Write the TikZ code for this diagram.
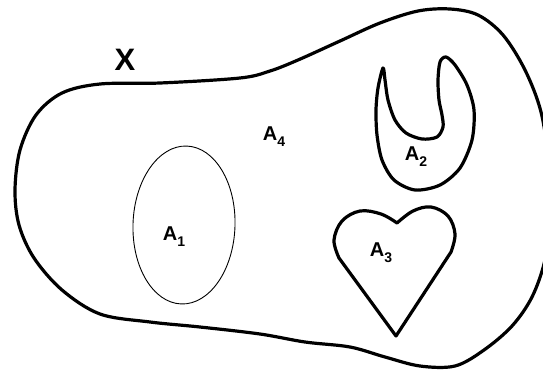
\documentclass[tikz,border=0pt]{standalone}
\usepackage{fontspec}
\setmainfont{Liberation Sans}
\begin{document}
\begin{tikzpicture}[x=1pt,y=-1pt,
  thickline/.style={line width=3.2pt,line join=round,line cap=round},
  thinline/.style={line width=0.9pt},
  lab/.style={inner sep=0pt,font=\fontsize{20}{22}\selectfont\bfseries},
  bigx/.style={inner sep=0pt,font=\fontsize{31}{33}\selectfont\bfseries}]
\useasboundingbox (0,0) rectangle (543,370);
% outer set X
\draw[thickline] plot[smooth cycle, tension=0.55] coordinates {
 (15,190) (20,150) (36,115) (62,93) (100,84) (160,83) (240,78) (270,71) (298,60)
 (340,41) (380,23) (418,11) (450,9) (478,15) (503,35) (525,70) (541,112)
 (549,165) (551,215) (545,260) (532,297) (512,326) (484,350) (455,366)
 (420,366) (385,357) (350,347) (305,342) (260,334) (200,327) (150,322)
 (100,314) (62,290) (34,258) (19,225)};
% A1 ellipse
\draw[thinline] (184,225) ellipse[x radius=51, y radius=79, rotate=-2];
% A2 shape
\draw[thickline] plot[smooth cycle, tension=0.5] coordinates {
 (383,68) (378,88) (376,110) (377,135) (382,160) (394,180) (415,190) (440,185)
 (460,168) (472,140) (474,110) (467,85) (455,65) (446,57) (440,62) (438,80)
 (439,100) (442,115) (443,127) (437,137) (422,139) (406,133) (395,120)
 (388,100) (385,80)};
% A3 heart
\draw[thickline] (396,336) -- plot[smooth, tension=0.6] coordinates {
 (339,258) (334,240) (342,221) (360,211) (381,214) (397,223)}
 -- plot[smooth, tension=0.6] coordinates {
 (397,223) (413,211) (431,207) (448,216) (455,234) (451,252)} -- cycle;
% labels
\node[bigx] (lx) at (125,60) {X};
\node[lab] (l1) at (174,237) {A\raisebox{-0.3em}{\fontsize{14}{14}\selectfont 1}};
\node[lab] (l2) at (416,157) {A\raisebox{-0.3em}{\fontsize{14}{14}\selectfont 2}};
\node[lab] (l3) at (381,253) {A\raisebox{-0.3em}{\fontsize{14}{14}\selectfont 3}};
\node[lab] (l4) at (274,137) {A\raisebox{-0.3em}{\fontsize{14}{14}\selectfont 4}};
\end{tikzpicture}
\end{document}
